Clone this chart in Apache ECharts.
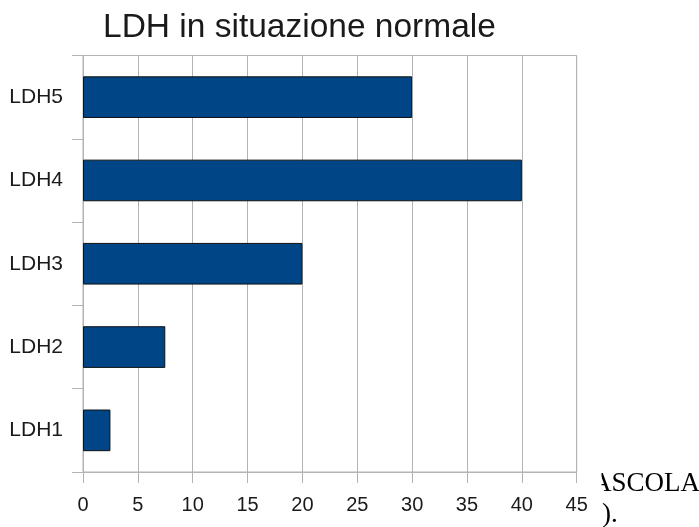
<!DOCTYPE html>
<html>
<head>
<meta charset="utf-8">
<script src="https://cdn.jsdelivr.net/npm/echarts@6/dist/echarts.min.js"></script>
<style>
  html, body { margin: 0; padding: 0; background: #fff; }
  #chart { width: 699px; height: 527px; }
</style>
</head>
<body>
<div id="chart"></div>
<script>
// LDH isoenzymes, normal distribution (%)
const categories = ['LDH1', 'LDH2', 'LDH3', 'LDH4', 'LDH5'];
const values = [2.5, 7.5, 20, 40, 30];
const titleText = 'LDH in situazione normale';

const GRID_COLOR = '#b3b3b3';
const SANS = '"Liberation Sans", Arial, sans-serif';
const SERIF = '"Liberation Serif", "Times New Roman", serif';

const chart = echarts.init(document.getElementById('chart'), null, { renderer: 'canvas' });

chart.setOption({
  animation: false,
  backgroundColor: '#ffffff',
  title: {
    text: titleText,
    left: 103,
    top: 11,
    padding: 0,
    textStyle: { fontFamily: SANS, fontSize: 33.5, fontWeight: 'normal', color: '#1a1a1a' }
  },
  grid: {
    left: 83,
    right: 122.3,
    top: 55.5,
    bottom: 55,
    show: true,
    borderColor: GRID_COLOR,
    borderWidth: 1,
    containLabel: false
  },
  xAxis: {
    type: 'value',
    min: 0,
    max: 45,
    interval: 5,
    axisLine: { show: true, lineStyle: { color: GRID_COLOR, width: 1 } },
    axisTick: { show: true, length: 11, lineStyle: { color: GRID_COLOR, width: 1 } },
    splitLine: { show: true, lineStyle: { color: GRID_COLOR, width: 1 } },
    axisLabel: { margin: 23, fontFamily: SANS, fontSize: 20, color: '#1a1a1a' }
  },
  yAxis: {
    type: 'category',
    data: categories,
    axisLine: { show: true, lineStyle: { color: GRID_COLOR, width: 1 } },
    axisTick: { show: true, length: 11, alignWithLabel: false, lineStyle: { color: GRID_COLOR, width: 1 } },
    splitLine: { show: false },
    axisLabel: { margin: 20, fontFamily: SANS, fontSize: 21, color: '#1a1a1a', padding: [6, 0, 0, 0] }
  },
  series: [{
    type: 'bar',
    data: values,
    barCategoryGap: '50%',
    itemStyle: { color: '#004586', borderColor: '#111111', borderWidth: 1 }
  }],
  graphic: [
    {
      type: 'text',
      left: 592,
      top: 470,
      z: 10,
      style: { text: 'ASCOLA', font: '27px ' + SERIF, fill: '#000' }
    },
    {
      type: 'text',
      left: 602,
      top: 501,
      z: 10,
      style: { text: ').', font: '27px ' + SERIF, fill: '#000' }
    },
    {
      type: 'rect',
      z: 11,
      shape: { x: 588, y: 462, width: 13.5, height: 30 },
      style: { fill: '#ffffff' }
    }
  ]
});
</script>
</body>
</html>
